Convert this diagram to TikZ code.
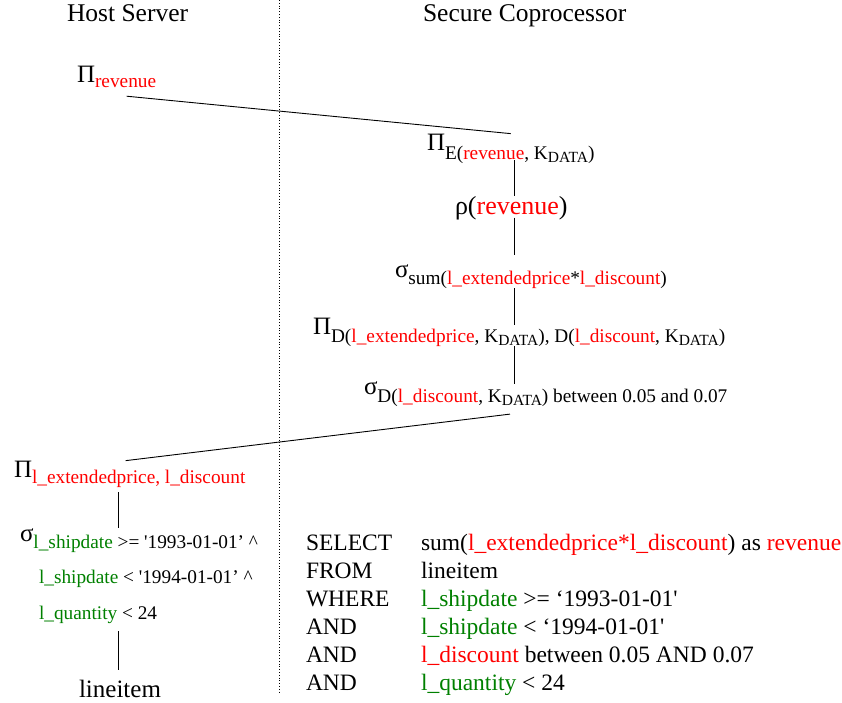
\documentclass[tikz,border=0pt]{standalone}
\usepackage{fontspec}
\setmainfont{Liberation Serif}
\usetikzlibrary{calc}
\definecolor{keyred}{RGB}{255,0,0}
\definecolor{keygreen}{RGB}{0,128,0}
\newcommand\fs[1]{\fontsize{#1}{#1}\selectfont}
\newcommand\rd[1]{\textcolor{keyred}{#1}}
\newcommand\gr[1]{\textcolor{keygreen}{#1}}
\newcommand\kd{K\raisebox{-3pt}{\fs{15.5}DATA}}
% relational operator: size, greek letter, subscript drop, subscript text
\newcommand\rlop[4]{{\fs{#1}#2}\raisebox{-#3pt}{\fs{19.3}#4}}
\begin{document}
\begin{tikzpicture}[x=1pt,y=-1pt,
  every node/.style={inner sep=0pt, outer sep=0pt, anchor=base west},
  edge/.style={line width=0.9pt},
  sql/.style={font=\fs{23.5}}]
\useasboundingbox (0,0) rectangle (842,702);

% column headings and the dotted boundary
\node (hs) at (67,21) {\fs{25.5}Host Server};
\node (sc) at (423,21) {\fs{25.5}Secure Coprocessor};
\coordinate (dtop) at (279,0);
\coordinate (dbot) at (279,693);
\draw[dotted, line width=0.8pt] (dtop) -- (dbot);

% plan operators
\node (p1) at (77,82) {\rlop{25}{Π}{5}{\rd{revenue}}};
\node (p2) at (427,150) {\rlop{25}{Π}{9}{E(\rd{revenue}, \kd)}};
\node (rho) at (455,214) {\fs{26}ρ(\rd{revenue})};
\node (s1) at (395,277) {\rlop{25}{σ}{7}{sum(\rd{l\_extendedprice}*\rd{l\_discount})}};
\node (p3) at (313,334) {\rlop{25}{Π}{8}{D(\rd{l\_extendedprice}, \kd), D(\rd{l\_discount}, \kd)}};
\node (s2) at (364,394) {\rlop{25}{σ}{8}{D(\rd{l\_discount}, \kd) between 0.05 and 0.07}};
\node (p4) at (14,477) {\rlop{25}{Π}{6}{\rd{l\_extendedprice, l\_discount}}};
\node (s3) at (20,541) {\rlop{25}{σ}{7}{\gr{l\_shipdate} >= \textquotesingle 1993-01-01' \textasciicircum}};
\node (s3b) at (39,583) {\fs{19.3}\gr{l\_shipdate} < \textquotesingle 1994-01-01' \textasciicircum};
\node (s3c) at (39,619) {\fs{19.3}\gr{l\_quantity} < 24};
\node (li) at (79,697) {\fs{25}lineitem};

% plan edges
\coordinate (spine) at (514,0);
\coordinate (lspine) at (118,0);
\draw[edge] ($(p1.south)+(10,9)$) -- (p2.north);
\draw[edge] ($(p2.south -| spine)+(0,-3)$) -- (rho.north -| spine);
\draw[edge] ($(rho.south -| spine)+(0,-2)$) -- ($(s1.north -| spine)+(0,-9)$);
\draw[edge] (s1.south -| spine) -- ($(p3.north -| spine)+(0,7)$);
\draw[edge] (p3.south -| spine) -- ($(s2.north -| spine)+(0,3)$);
\draw[edge] ($(s2.south -| spine)+(-4,8)$) -- ($(p4.north)+(-4,0)$);
\draw[edge] ($(p4.south -| lspine)+(0,5)$) -- (s3.north -| lspine);
\draw[edge] ($(s3c.south -| lspine)+(0,8)$) -- ($(li.north -| lspine)+(0,-10)$);

% SQL query
\node[sql] (k1) at (306,550) {SELECT};
\node[sql] (k2) at (306,578) {FROM};
\node[sql] (k3) at (306,606) {WHERE};
\node[sql] (k4) at (306,634) {AND};
\node[sql] (k5) at (306,662) {AND};
\node[sql] (k6) at (306,690) {AND};
\node[sql] (v1) at (421,550) {sum(\rd{l\_extendedprice*l\_discount}) as \rd{revenue}};
\node[sql] (v2) at (421,578) {lineitem};
\node[sql] (v3) at (421,606) {\gr{l\_shipdate} >= ‘1993-01-01\textquotesingle};
\node[sql] (v4) at (421,634) {\gr{l\_shipdate} < ‘1994-01-01\textquotesingle};
\node[sql] (v5) at (421,662) {\rd{l\_discount} between 0.05 AND 0.07};
\node[sql] (v6) at (421,690) {\gr{l\_quantity} < 24};
\end{tikzpicture}
\end{document}
